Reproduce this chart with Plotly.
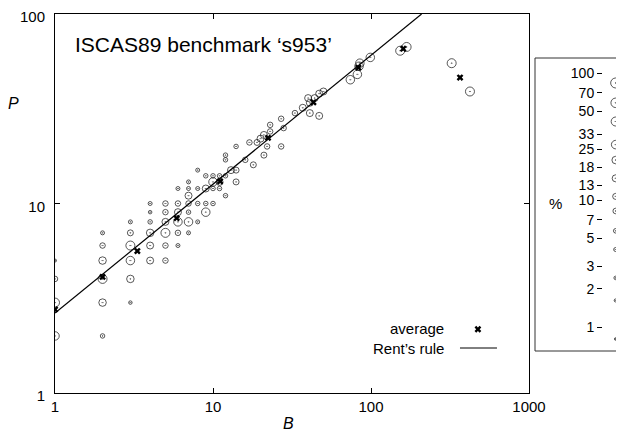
import plotly.graph_objects as go

# ---------------- data ----------------
# circuit partitions: number of blocks B, pins P, share in percent
B_vals = [1, 1, 1, 1,
          2, 2, 2, 2, 2, 2,
          3, 3, 3, 3, 3, 3,
          4, 4, 4, 4, 4, 4,
          5, 5, 5, 5, 5, 5,
          6, 6, 6, 6, 6, 6,
          7, 7, 7, 7, 7, 7, 7,
          8, 8, 8, 8,
          9, 9, 9, 9,
          10, 10, 10, 10,
          11, 11, 11,
          12, 12, 12, 12,
          13, 14, 14, 14, 16, 17, 18, 19, 20, 21, 21, 22, 23, 23,
          27, 27, 28, 33, 37, 40, 41, 41, 44, 47, 47, 50,
          74, 82, 84, 85, 99, 153, 168, 324, 423]
P_vals = [2, 3, 4, 5,
          2, 3, 4, 5, 6, 7,
          3, 4, 5, 6, 7, 8,
          5, 6, 7, 8, 9, 10,
          5, 6, 7, 8, 9, 10,
          6, 7, 8, 9, 10, 12,
          7, 8, 9, 10, 11, 12, 13,
          8, 10, 12, 15,
          9, 10, 12, 14,
          10, 12, 13, 14,
          12, 13, 14,
          11, 14, 17, 18,
          15, 13, 15, 20, 17, 21, 16, 21, 22, 23, 18, 20, 24, 26,
          28, 20, 25, 30, 32, 36, 34, 30, 36, 38, 29, 39,
          45, 48, 53, 55, 59, 64, 67, 55, 39]
pct_vals = [33, 50, 10, 2,
            7, 25, 50, 25, 10, 5,
            3, 25, 33, 50, 13, 5,
            18, 18, 25, 7, 3, 5,
            10, 10, 50, 18, 10, 10,
            5, 10, 33, 18, 10, 5,
            5, 33, 7, 10, 18, 5, 5,
            5, 7, 5, 5,
            33, 7, 18, 7,
            7, 7, 33, 7,
            7, 18, 7,
            7, 7, 7, 7,
            18, 13, 13, 7, 10, 10, 13, 13, 18, 18, 13, 10, 10, 10,
            10, 10, 10, 10, 18, 18, 18, 18, 18, 18, 18, 18,
            33, 33, 33, 33, 33, 50, 50, 50, 50]

# averages
avg_B = [1, 2, 3.32, 5.89, 11.1, 22.3, 43.2, 83.2, 160, 366]
avg_P = [2.76, 4.1, 5.61, 8.37, 13.1, 22.2, 34.2, 52.1, 65.6, 46.2]

# Rent's rule line end points
rent_B = [1, 209]
rent_P = [2.64, 100]

# key sample position for "average" (in data units of the main axes)
key_avg_B = [475]
key_avg_P = [2.17]

# size legend classes (percent)
legend_pct = [100, 70, 50, 33, 25, 18, 13, 10, 7, 5, 3, 2, 1]
legend_size = [10, 9.5, 9, 8.5, 7.5, 7, 6, 5.5, 4.5, 4, 3.5, 3, 2.5]

x_ticks = [1, 10, 100, 1000]
y_ticks = [1, 10, 100]
minor_vals = [m * d for d in (1, 10, 100) for m in range(2, 10)]

size_of = dict(zip(legend_pct, legend_size))
FONT = "Liberation Sans, Arial, sans-serif"
INK = "#111"

fig = go.Figure()

fig.add_trace(go.Scatter(
    x=B_vals, y=P_vals, mode="markers",
    marker=dict(symbol="circle-open-dot", size=[size_of[p] for p in pct_vals],
                color=INK, line=dict(width=1, color=INK)),
    showlegend=False, hoverinfo="skip"))

fig.add_trace(go.Scatter(
    x=rent_B, y=rent_P, mode="lines",
    line=dict(color="black", width=1.2), showlegend=False, hoverinfo="skip"))

fig.add_trace(go.Scatter(
    x=avg_B, y=avg_P, mode="markers",
    marker=dict(symbol="x", size=6, color="black", line=dict(width=0)),
    showlegend=False, hoverinfo="skip"))

fig.add_trace(go.Scatter(
    x=key_avg_B, y=key_avg_P, mode="markers", cliponaxis=False,
    marker=dict(symbol="x", size=6, color="black", line=dict(width=0)),
    showlegend=False, hoverinfo="skip"))

# invisible carrier so the legend label axis is drawn
fig.add_trace(go.Scatter(
    x=[0.5] * len(legend_pct), y=legend_pct, mode="markers",
    xaxis="x2", yaxis="y2", marker=dict(size=1, opacity=0),
    showlegend=False, hoverinfo="skip"))

# size legend circles
fig.add_trace(go.Scatter(
    x=[0.5] * len(legend_pct), y=legend_pct, mode="markers",
    xaxis="x3", yaxis="y3", cliponaxis=False,
    marker=dict(symbol="circle-open-dot", size=legend_size,
                color=INK, line=dict(width=1, color=INK)),
    showlegend=False, hoverinfo="skip"))

tickfont = dict(family=FONT, size=15, color="black")
major = dict(type="log", showline=True, linecolor="black", linewidth=1,
             mirror="allticks", ticks="inside", ticklen=5, tickwidth=1,
             tickcolor="black", showgrid=False, zeroline=False,
             automargin=False, ticklabeloverflow="allow",
             tickfont=tickfont, tickmode="array")
minor = dict(type="log", showline=True, linecolor="black", linewidth=1,
             mirror="allticks", ticks="inside", ticklen=3, tickwidth=1,
             tickcolor="black", showgrid=False, zeroline=False,
             automargin=False, showticklabels=False, tickmode="array",
             tickvals=minor_vals)

MAIN_W = 0.82149  # main plot domain end (paper)

fig.update_layout(
    width=624, height=433,
    margin=dict(l=47, r=0, t=6, b=48, autoexpand=False),
    paper_bgcolor="white", plot_bgcolor="white",
    font=dict(family=FONT, size=15, color="black"),
    xaxis=dict(domain=[0, MAIN_W], range=[0, 3], anchor="y",
               tickvals=x_ticks, ticktext=[str(v) for v in x_ticks], **major),
    yaxis=dict(domain=[0, 1], range=[0, 2], anchor="x",
               ticklabelshift=3, ticklabelstandoff=6,
               tickvals=y_ticks, ticktext=[str(v) for v in y_ticks], **major),
    xaxis5=dict(overlaying="x", range=[0, 3], anchor="y", side="bottom", **minor),
    yaxis5=dict(overlaying="y", range=[0, 2], anchor="x", side="left", **minor),
    xaxis2=dict(domain=[0.9497, 0.956], range=[0, 1], visible=False, anchor="y2"),
    yaxis2=dict(domain=[0.1741, 0.8443], type="log", range=[0, 2], anchor="x2",
                side="left", showline=False, showgrid=False, zeroline=False,
                automargin=False, ticklabeloverflow="allow",
                ticks="outside", ticklen=5, tickcolor="black",
                tickmode="array", tickvals=legend_pct,
                ticktext=[str(v) for v in legend_pct],
                tickfont=dict(family=FONT, size=14, color="black")),
    xaxis3=dict(domain=[0.95, 0.9934], range=[0, 1], visible=False, anchor="y3"),
    yaxis3=dict(domain=[0.1425, 0.818], type="log", range=[0, 2], visible=False,
                anchor="x3"),
    shapes=[
        dict(type="rect", xref="paper", yref="paper", x0=0.8319, x1=1.05,
             y0=0.1108, y1=0.8839, line=dict(color="#333", width=1)),
        dict(type="line", xref="paper", yref="paper", x0=0.7019, x1=0.7660,
             y0=0.1187, y1=0.1187, line=dict(color="black", width=1)),
    ],
    annotations=[
        dict(text="ISCAS89 benchmark ‘s953’", xref="paper", yref="paper",
             x=0.0312, y=0.9208, xanchor="left", yanchor="middle",
             showarrow=False, font=dict(family=FONT, size=21)),
        dict(text="<i>P</i>", xref="paper", yref="paper", x=-0.072, y=0.765,
             xanchor="center", yanchor="middle", showarrow=False,
             font=dict(family=FONT, size=16)),
        dict(text="<i>B</i>", xref="paper", yref="paper", x=0.4055, y=-0.0792,
             xanchor="center", yanchor="middle", showarrow=False,
             font=dict(family=FONT, size=16)),
        dict(text="average", xref="paper", yref="paper", x=0.6776, y=0.1689,
             xanchor="right", yanchor="middle", showarrow=False,
             font=dict(family=FONT, size=15)),
        dict(text="Rent’s rule", xref="paper", yref="paper", x=0.6776, y=0.1187,
             xanchor="right", yanchor="middle", showarrow=False,
             font=dict(family=FONT, size=15)),
        dict(text="%", xref="paper", yref="paper", x=0.8666, y=0.5013,
             xanchor="center", yanchor="middle", showarrow=False,
             font=dict(family=FONT, size=15)),
    ],
)

fig.write_html("out.html")
